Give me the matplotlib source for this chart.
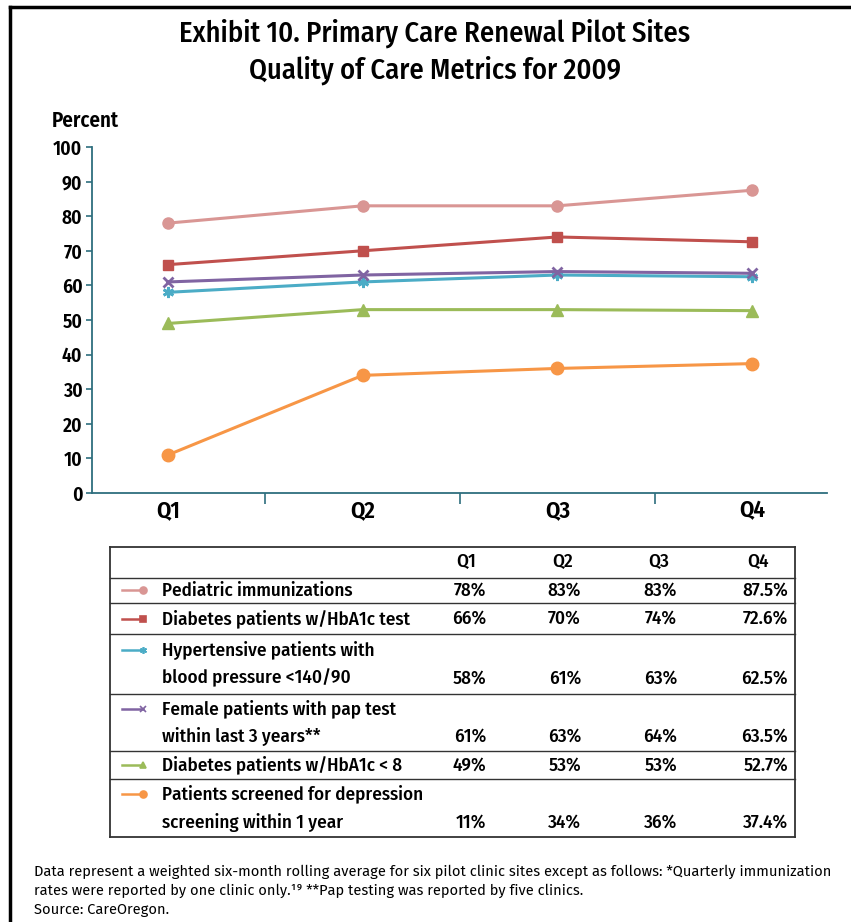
import matplotlib.pyplot as plt
from matplotlib.lines import Line2D

plt.rcParams['font.family'] = ['Fira Sans Condensed', 'DejaVu Sans']

quarters = ['Q1', 'Q2', 'Q3', 'Q4']
series = [
    'Pediatric immunizations',
    'Diabetes patients w/HbA1c test',
    'Hypertensive patients with\nblood pressure <140/90',
    'Female patients with pap test\nwithin last 3 years**',
    'Diabetes patients w/HbA1c < 8',
    'Patients screened for depression\nscreening within 1 year',
]
pediatric = [78, 83, 83, 87.5]
diab_test = [66, 70, 74, 72.6]
hypert = [58, 61, 63, 62.5]
pap = [61, 63, 64, 63.5]
diab_lt8 = [49, 53, 53, 52.7]
depression = [11, 34, 36, 37.4]
values = [pediatric, diab_test, hypert, pap, diab_lt8, depression]

colors = ['#D99694', '#C0504D', '#4BACC6', '#8064A2', '#9BBB59', '#F79646']
markers = ['o', 's', (6, 2, 0), 'x', '^', 'o']
msizes = [8, 6.5, 8, 7, 8, 9]
spine_c = '#2E6E7E'

fig = plt.figure(figsize=(8.51, 9.22), dpi=100)
W, H = 851, 922

def fx(px):
    return px / W

def fy(py):
    return 1 - py / H

# outer frame (top + left only visible)
fig.add_artist(Line2D([fx(10), 1], [fy(7), fy(7)], color='black', lw=2.5))
fig.add_artist(Line2D([fx(10), fx(10)], [fy(7), 0], color='black', lw=2.5))

fig.text(fx(435), fy(33), 'Exhibit 10. Primary Care Renewal Pilot Sites',
         ha='center', va='center', fontsize=20.5, fontweight='medium')
fig.text(fx(435), fy(70), 'Quality of Care Metrics for 2009',
         ha='center', va='center', fontsize=20.5, fontweight='medium')

# line chart
ax = fig.add_axes([fx(92), fy(493), fx(827) - fx(92), fy(147) - fy(493)])
x = list(range(len(quarters)))
for v, c, m, ms in zip(values, colors, markers, msizes):
    thin = m == 'x' or isinstance(m, tuple)
    ax.plot(x, v, color=c, lw=2.2, marker=m, markersize=ms,
            markeredgecolor=c, markerfacecolor=c, markeredgewidth=2 if thin else 1,
            clip_on=False)

ax.set_ylim(0, 100)
ax.set_xlim(-0.39, 3.385)
ax.set_yticks(range(0, 101, 10))
ax.set_xticks(x)
ax.set_xticklabels(quarters)
ax.set_xticks([0.5, 1.5, 2.5], minor=True)
for s in ['top', 'right']:
    ax.spines[s].set_visible(False)
for s in ['left', 'bottom']:
    ax.spines[s].set_color(spine_c)
    ax.spines[s].set_linewidth(1.3)
ax.tick_params(axis='y', length=4, color=spine_c, width=1.2, labelsize=14, pad=3)
ax.tick_params(axis='x', which='major', length=0, labelsize=16.5, pad=4)
ax.tick_params(axis='x', which='minor', length=8, color=spine_c, width=1.2)
for lab in ax.get_yticklabels() + ax.get_xticklabels():
    lab.set_fontweight('semibold')
fig.text(fx(52), fy(121), 'Percent', ha='left', va='center', fontsize=15, fontweight='semibold')

# data table
tl, tr = 110, 795
hlines = [547, 578, 603, 634, 694, 751, 779, 837]
for y in hlines:
    lw = 1.3 if y in (547, 837) else 1.0
    fig.add_artist(Line2D([fx(tl), fx(tr)], [fy(y), fy(y)], color='#333333', lw=lw))
fig.add_artist(Line2D([fx(tl), fx(tl)], [fy(547), fy(837)], color='#333333', lw=1.3))
fig.add_artist(Line2D([fx(tr), fx(tr)], [fy(547), fy(837)], color='#333333', lw=1.3))

col_right = [486, 581, 677, 788]
col_head = [466, 563, 659, 758]
tfs = 13.7
for q, cx in zip(quarters, col_head):
    fig.text(fx(cx), fy(562), q, ha='center', va='center', fontsize=tfs, fontweight='medium')

line_h = 28
for i, (name, v, c, m) in enumerate(zip(series, values, colors, markers)):
    top, bot = hlines[i + 1], hlines[i + 2]
    nlines = name.count('\n') + 1
    first_y = (top + bot) / 2 - (nlines - 1) * line_h / 2
    last_y = first_y + (nlines - 1) * line_h
    fig.add_artist(Line2D([fx(122), fx(143)], [fy(first_y), fy(first_y)], color=c, lw=1.8,
                          marker=m, markersize=5, markeredgecolor=c, markerfacecolor=c,
                          markevery=[1], markeredgewidth=1.2))
    for k, part in enumerate(name.split('\n')):
        fig.text(fx(162), fy(first_y + k * line_h), part, ha='left', va='center',
                 fontsize=tfs, fontweight='medium')
    for j, (val, cr) in enumerate(zip(v, col_right)):
        s = f'{val:.1f}%' if j == 3 else f'{val:.0f}%'
        fig.text(fx(cr), fy(last_y), s, ha='right', va='center', fontsize=tfs, fontweight='medium')

# footnote
ffam = ['Fira Sans', 'DejaVu Sans']
ffs = 10.55
fig.text(fx(34), fy(872), 'Data represent a weighted six-month rolling average for six pilot clinic sites '
         'except as follows: *Quarterly immunization', ha='left', va='center', fontsize=ffs, family=ffam)
fig.text(fx(34), fy(891), 'rates were reported by one clinic only.¹⁹ **Pap testing was reported by five clinics.',
         ha='left', va='center', fontsize=ffs, family=ffam)
fig.text(fx(34), fy(910), 'Source: CareOregon.', ha='left', va='center', fontsize=ffs, family=ffam)

fig.savefig('out.png', dpi=100)
